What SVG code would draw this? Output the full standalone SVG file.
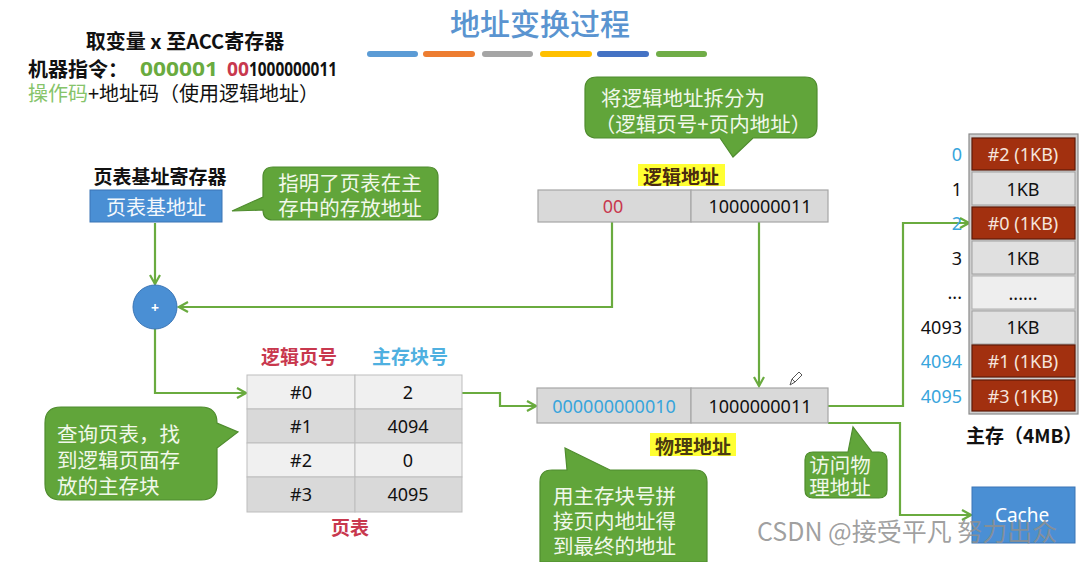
<svg xmlns="http://www.w3.org/2000/svg" width="1081" height="562" viewBox="0 0 1081 562">
<defs>
<style>
text{font-family:'Noto Sans','Noto Sans CJK SC',sans-serif;dominant-baseline:central}
.cjk{font-family:'Noto Sans CJK SC',sans-serif}
.c{text-anchor:middle}
.e{text-anchor:end}
.b{font-weight:bold}
.wire{fill:none;stroke:#6aab3f;stroke-width:2.2}
.bubble{fill:#61a53a;stroke:#4f8c2e;stroke-width:1.2}
.btxt{fill:#f1f8ea;font-size:20.5px;font-family:'Noto Sans CJK SC',sans-serif}
.cell{fill:#d9d9d9;stroke:#a6a6a6;stroke-width:1.2}
.red{fill:#a2300f;stroke:#5e1a08;stroke-width:1.2}
.gray{fill:#e0e0e0;stroke:#a0a0a0;stroke-width:1}
.rt{fill:#f5e4dc;font-size:18px}
.kt{fill:#111;font-size:18px}
.lbl{font-size:18px;fill:#111}
.blue{fill:#38a5dc}
.hl{fill:#ffff33}
</style>
<marker id="arr" markerWidth="12" markerHeight="12" refX="10" refY="6" orient="auto" markerUnits="userSpaceOnUse">
<path d="M1,1 L10,6 L1,11" fill="none" stroke="#6aab3f" stroke-width="2.2"/>
</marker>
</defs>
<rect width="1081" height="562" fill="#ffffff"/>

<g id="title">
<text x="540" y="22" class="c cjk" font-size="30" font-weight="500" fill="#5a94d0">地址变换过程</text>
<rect x="367" y="51" width="51" height="6" rx="3" fill="#5b9bd5"/>
<rect x="423" y="51" width="52" height="6" rx="3" fill="#ed7d31"/>
<rect x="482" y="51" width="51" height="6" rx="3" fill="#a5a5a5"/>
<rect x="540" y="51" width="52" height="6" rx="3" fill="#ffc000"/>
<rect x="597" y="51" width="52" height="6" rx="3" fill="#4472c4"/>
<rect x="656" y="51" width="51" height="6" rx="3" fill="#70ad47"/>
</g>

<g id="instruction">
<text x="185" y="40" class="c b cjk" font-size="20" fill="#111">取变量 x 至ACC寄存器</text>
<text x="28" y="68" class="b cjk" font-size="20" fill="#111">机器指令：</text>
<text x="140" y="68" class="b" font-size="20" fill="#6aab3f" textLength="78" lengthAdjust="spacingAndGlyphs">000001</text>
<text x="227" y="68" class="b" font-size="20" fill="#c8384e" textLength="22" lengthAdjust="spacingAndGlyphs">00</text>
<text x="249" y="68" class="b" font-size="20" fill="#111" textLength="88" lengthAdjust="spacingAndGlyphs">1000000011</text>
<text x="28" y="92" class="cjk" font-size="20" fill="#111"><tspan fill="#86c46a">操作码</tspan>+地址码（使用逻辑地址）</text>
</g>

<g id="connectors">
<path class="wire" d="M155,223 V284" marker-end="url(#arr)"/>
<path class="wire" d="M612,222 V307 H179" marker-end="url(#arr)"/>
<path class="wire" d="M155,329 V393 H246" marker-end="url(#arr)"/>
<path class="wire" d="M462,393 H500 V406 H536" marker-end="url(#arr)"/>
<path class="wire" d="M759,222 V386" marker-end="url(#arr)"/>
<path class="wire" d="M828,406 H903 V223 H969" marker-end="url(#arr)"/>
<path class="wire" d="M828,423 H900 V515 H971" marker-end="url(#arr)"/>
</g>

<g id="ptbr">
<text x="160" y="175" class="c b cjk" font-size="19" fill="#111">页表基址寄存器</text>
<rect x="90" y="190" width="132" height="32" fill="#4a8fd4" stroke="#3a75b5" stroke-width="1"/>
<text x="156" y="206" class="c cjk" font-size="20" fill="#f4f8fc">页表基地址</text>
</g>

<g id="bubble-ptbr">
<path class="bubble" d="M273,167 H428 Q438,167 438,177 V210 Q438,220 428,220 H273 Q263,220 263,210 L232,211 L263,197 V177 Q263,167 273,167 Z"/>
<text x="350" y="182" class="c btxt">指明了页表在主</text>
<text x="350" y="207" class="c btxt">存中的存放地址</text>
</g>

<g id="adder">
<circle cx="155" cy="307" r="22" fill="#4a8fd4" stroke="#3a75b5" stroke-width="1"/>
<text x="155" y="307" class="c b" font-size="14" fill="#ffffff">+</text>
</g>

<g id="bubble-split">
<path class="bubble" d="M597,77 H805 Q817,77 817,89 V126 Q817,138 805,138 H753 L733,157 L720,138 H597 Q585,138 585,126 V89 Q585,77 597,77 Z"/>
<text x="683" y="97" class="c btxt">将逻辑地址拆分为</text>
<text x="703" y="123" class="c btxt">（逻辑页号+页内地址）</text>
</g>

<g id="logical-address">
<rect x="638" y="164" width="87" height="22" class="hl"/>
<text x="681" y="175" class="c b cjk" font-size="19" fill="#4a2a10">逻辑地址</text>
<rect x="538" y="190" width="153" height="32" class="cell"/>
<rect x="691" y="190" width="137" height="32" class="cell"/>
<text x="613" y="206" class="c" font-size="18" fill="#c8384e">00</text>
<text x="760" y="206" class="c" font-size="18" fill="#111">1000000011</text>
</g>

<g id="page-table">
<text x="299" y="355" class="c b cjk" font-size="19" fill="#c8384e">逻辑页号</text>
<text x="410" y="355" class="c b cjk" font-size="19" fill="#4fb0e0">主存块号</text>
<rect x="247" y="375" width="108" height="34" fill="#f0f0f0" stroke="#bdbdbd"/>
<rect x="355" y="375" width="107" height="34" fill="#f0f0f0" stroke="#bdbdbd"/>
<rect x="247" y="409" width="108" height="34" fill="#d9d9d9" stroke="#bdbdbd"/>
<rect x="355" y="409" width="107" height="34" fill="#d9d9d9" stroke="#bdbdbd"/>
<rect x="247" y="443" width="108" height="34" fill="#f0f0f0" stroke="#bdbdbd"/>
<rect x="355" y="443" width="107" height="34" fill="#f0f0f0" stroke="#bdbdbd"/>
<rect x="247" y="477" width="108" height="35" fill="#d9d9d9" stroke="#bdbdbd"/>
<rect x="355" y="477" width="107" height="35" fill="#d9d9d9" stroke="#bdbdbd"/>
<text x="301" y="392" class="c kt">#0</text><text x="408" y="392" class="c kt">2</text>
<text x="301" y="426" class="c kt">#1</text><text x="408" y="426" class="c kt">4094</text>
<text x="301" y="460" class="c kt">#2</text><text x="408" y="460" class="c kt">0</text>
<text x="301" y="494" class="c kt">#3</text><text x="408" y="494" class="c kt">4095</text>
<text x="350" y="526" class="c b cjk" font-size="19" fill="#c8384e">页表</text>
</g>

<g id="bubble-lookup">
<path class="bubble" d="M61,407 H201 Q217,407 217,423 L238,432 L217,448 V484 Q217,500 201,500 H61 Q45,500 45,484 V423 Q45,407 61,407 Z"/>
<text x="57" y="433" class="btxt">查询页表，找</text>
<text x="57" y="459" class="btxt">到逻辑页面存</text>
<text x="57" y="485" class="btxt">放的主存块</text>
</g>

<g id="physical-address">
<rect x="537" y="388" width="154" height="35" class="cell"/>
<rect x="691" y="388" width="137" height="35" class="cell"/>
<text x="614" y="406" class="c" font-size="18" fill="#38a5dc">000000000010</text>
<text x="760" y="406" class="c" font-size="18" fill="#111">1000000011</text>
<rect x="650" y="433" width="86" height="23" class="hl"/>
<text x="693" y="445" class="c b cjk" font-size="19" fill="#4a3a10">物理地址</text>
<path d="M790,385 L792,379 L799,372 L802,375 L795,382 Z M792,379 L795,382" fill="none" stroke="#555" stroke-width="1"/>
</g>

<g id="bubble-concat">
<path class="bubble" d="M552,470 H567 L565,448 L610,470 H695 Q707,470 707,482 V562 H540 V482 Q540,470 552,470 Z"/>
<text x="553" y="495" class="btxt">用主存块号拼</text>
<text x="553" y="520" class="btxt">接页内地址得</text>
<text x="553" y="545" class="btxt">到最终的地址</text>
</g>

<g id="bubble-access">
<path class="bubble" d="M813,452 H848 L853,427 L872,452 H879 Q887,452 887,460 V490 Q887,498 879,498 H813 Q805,498 805,490 V460 Q805,452 813,452 Z"/>
<text x="840" y="464" class="c btxt" font-size="20">访问物</text>
<text x="840" y="486" class="c btxt" font-size="20">理地址</text>
</g>

<g id="main-memory">
<rect x="969" y="134" width="109" height="280" fill="#cfcfcf" stroke="#8a8a8a" stroke-width="1.2"/>
<rect x="972" y="138" width="103" height="32" class="red"/>
<rect x="972" y="172" width="103" height="33" class="gray"/>
<rect x="972" y="207" width="103" height="32" class="red"/>
<rect x="972" y="241" width="103" height="33" class="gray"/>
<rect x="972" y="276" width="103" height="33" fill="#eeeeee" stroke="#b0b0b0" stroke-width="1"/>
<rect x="972" y="311" width="103" height="33" class="gray"/>
<rect x="972" y="345" width="103" height="32" class="red"/>
<rect x="972" y="380" width="103" height="31" class="red"/>
<text x="1023" y="154" class="c rt">#2 (1KB)</text>
<text x="1023" y="189" class="c kt">1KB</text>
<text x="1023" y="223" class="c rt">#0 (1KB)</text>
<text x="1023" y="258" class="c kt">1KB</text>
<text x="1023" y="293" class="c kt" font-size="14">......</text>
<text x="1023" y="327" class="c kt">1KB</text>
<text x="1023" y="361" class="c rt">#1 (1KB)</text>
<text x="1023" y="396" class="c rt">#3 (1KB)</text>
<text x="962" y="154" class="e lbl blue">0</text>
<text x="962" y="189" class="e lbl">1</text>
<text x="962" y="223" class="e lbl blue">2</text>
<text x="962" y="258" class="e lbl">3</text>
<text x="962" y="292" class="e lbl" font-size="14">...</text>
<text x="962" y="327" class="e lbl">4093</text>
<text x="962" y="361" class="e lbl blue">4094</text>
<text x="962" y="396" class="e lbl blue">4095</text>
<text x="966" y="434" class="b cjk" font-size="19" fill="#111">主存（4MB）</text>
</g>

<g id="cache">
<rect x="972" y="487" width="103" height="56" fill="#4a8fd4" stroke="#3a75b5" stroke-width="1"/>
<text x="1022" y="515" class="c" font-size="19" fill="#ffffff">Cache</text>
</g>

<text x="757" y="530" font-size="25" fill="#8f8f8f" fill-opacity="0.85" class="cjk">CSDN @接受平凡 努力出众</text>
</svg>
